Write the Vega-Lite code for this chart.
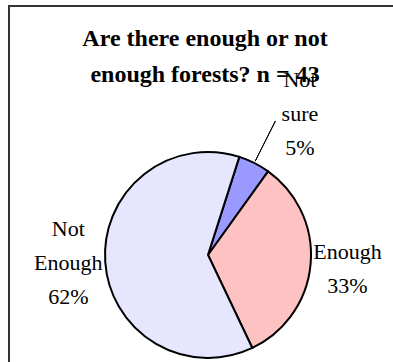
{
  "$schema": "https://vega.github.io/schema/vega-lite/v6.json",
  "autosize": {"type": "none"},
  "width": 398,
  "height": 498,
  "padding": {"left": 9, "top": 6, "right": -14, "bottom": -142},
  "background": "white",
  "view": {"stroke": "#333333", "strokeWidth": 2, "fill": "white"},
  "title": {
    "text": ["Are there enough or not", "enough forests? n = 43"],
    "font": "Liberation Serif",
    "fontSize": 24,
    "fontWeight": "bold",
    "lineHeight": 36,
    "color": "black",
    "anchor": "middle",
    "frame": "group",
    "offset": -81,
    "dx": -3
  },
  "data": {
    "values": [
      {"cat": "Not sure", "pct": 5, "rank": 1, "label": "Not\nsure\n5%"},
      {"cat": "Enough", "pct": 33, "rank": 2, "label": "Enough\n33%"},
      {"cat": "Not Enough", "pct": 62, "rank": 3, "label": "Not\nEnough\n62%"}
    ]
  },
  "encoding": {
    "theta": {"field": "pct", "type": "quantitative", "stack": true, "scale": {"range": [0.309, 6.592]}},
    "order": {"field": "rank", "type": "quantitative"}
  },
  "layer": [
    {
      "mark": {"type": "arc", "outerRadius": 103, "stroke": "black", "strokeWidth": 2},
      "encoding": {
        "color": {"field": "cat", "type": "nominal", "legend": null,
          "scale": {"domain": ["Not sure", "Enough", "Not Enough"], "range": ["#9999FF", "#FFC2C2", "#E6E6FF"]}}
      }
    },
    {
      "mark": {"type": "arc", "innerRadius": 105, "outerRadius": 150, "padAngle": 1, "fill": null, "stroke": "black", "strokeWidth": 1},
      "encoding": {
        "strokeOpacity": {"condition": {"test": "datum.cat === 'Not sure'", "value": 1}, "value": 0}
      }
    },
    {
      "mark": {"type": "text", "radius": 140, "dx": 29, "dy": -50, "font": "Liberation Serif", "fontSize": 22, "lineBreak": "\n", "lineHeight": 34, "color": "black", "align": "center", "baseline": "middle"},
      "encoding": {
        "text": {"field": "label", "type": "nominal"},
        "opacity": {"condition": {"test": "datum.cat === 'Not sure'", "value": 1}, "value": 0}
      }
    },
    {
      "mark": {"type": "text", "radius": 140, "dy": -15, "font": "Liberation Serif", "fontSize": 22, "lineBreak": "\n", "lineHeight": 34, "color": "black", "align": "center", "baseline": "middle"},
      "encoding": {
        "text": {"field": "label", "type": "nominal"},
        "opacity": {"condition": {"test": "datum.cat === 'Enough'", "value": 1}, "value": 0}
      }
    },
    {
      "mark": {"type": "text", "radius": 140, "dy": -36, "font": "Liberation Serif", "fontSize": 22, "lineBreak": "\n", "lineHeight": 34, "color": "black", "align": "center", "baseline": "middle"},
      "encoding": {
        "text": {"field": "label", "type": "nominal"},
        "opacity": {"condition": {"test": "datum.cat === 'Not Enough'", "value": 1}, "value": 0}
      }
    }
  ]
}
